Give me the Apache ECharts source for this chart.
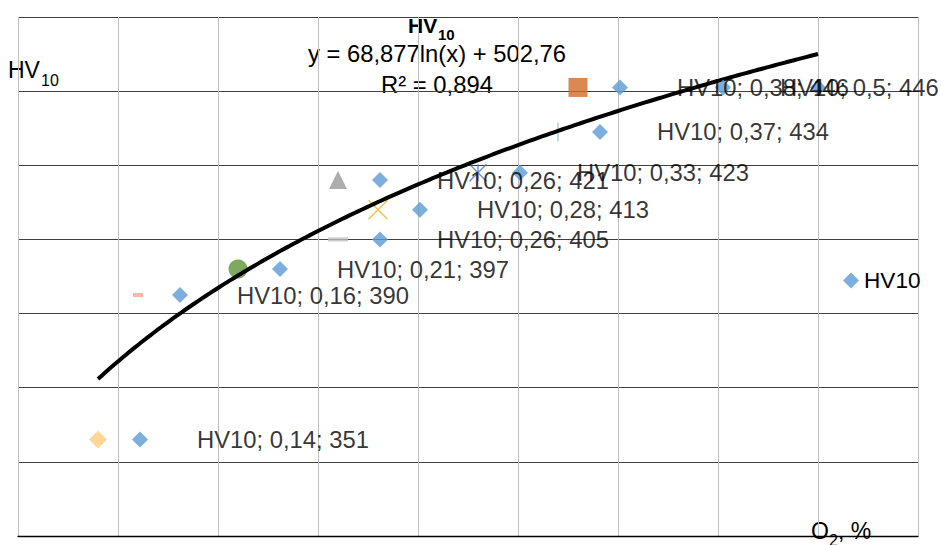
<!DOCTYPE html>
<html><head><meta charset="utf-8">
<script src="https://cdn.jsdelivr.net/npm/echarts@6/dist/echarts.min.js"></script>
<style>html,body{margin:0;padding:0;background:#fff}#c{width:941px;height:545px}</style>
</head><body><div id="c"></div>
<script>
// ---- data ----
const o2 = [0.14, 0.16, 0.21, 0.26, 0.26, 0.28, 0.33, 0.37, 0.38, 0.5];   // O2, %
const hv10 = [351, 390, 397, 405, 421, 413, 423, 434, 446, 446];          // HV10
// x position (axis units) at which the labelled "HV10" diamonds appear
const hvSeriesX = [0.161, 0.181, 0.231, 0.281, 0.281, 0.301, 0.351, 0.391, 0.401, 0.4525];
const trendCoef = [68.877, 502.76];   // y = a ln(x) + b
const trendRange = [0.14, 0.5];
const rSquared = '0,894';
const xScale = [0.1, 0.55, 0.05];
const yScale = [325, 465, 20];

// ---- styles for the individually marked points (one series each) ----
const markerStyles = [
  {symbol: 'diamond', size: 18, color: '#FFCC80'},
  {symbol: 'rect', size: [10, 4], color: '#F4A88A'},
  {symbol: 'circle', size: 19, color: '#5E9438'},
  {symbol: 'rect', size: [20, 4], color: '#BDBDBD'},
  {symbol: 'triangle', size: 18, color: '#999999'},
  {symbol: 'path://M0,0L10,10M10,0L0,10', size: 19, stroke: '#F0B020'},
  {symbol: 'path://M0,0L10,10M10,0L0,10M5,0L5,10', size: 17, stroke: '#4A74C4'},
  {symbol: 'rect', size: [1.6, 19], color: '#9DC3E6'},
  {symbol: 'rect', size: 19, color: '#D36A28'},
  {symbol: 'diamond', size: 16, color: '#5B9BD5'}
];

const fmt = v => String(v).replace('.', ',');
const FONT = '"Liberation Sans", Arial, sans-serif';

const series = [];
o2.forEach((x, i) => {
  const m = markerStyles[i];
  series.push({
    type: 'scatter', name: 'p' + i, z: 2,
    symbol: m.symbol, symbolSize: m.size,
    itemStyle: m.stroke ? {color: 'none', borderColor: m.stroke, borderWidth: 1.4}
                        : {color: m.color},
    data: [[x, hv10[i]]]
  });
});

const trend = [];
for (let k = 0; k <= 180; k++) {
  const x = trendRange[0] + (trendRange[1] - trendRange[0]) * k / 180;
  trend.push([x, trendCoef[0] * Math.log(x) + trendCoef[1]]);
}
series.push({
  type: 'line', name: 'trend', z: 3, data: trend, showSymbol: false,
  lineStyle: {color: '#000', width: 4}, silent: true
});

series.push({
  type: 'scatter', name: 'HV10', z: 4,
  symbol: 'diamond', symbolSize: 16,
  itemStyle: {color: '#5B9BD5'},
  data: hvSeriesX.map((x, i) => [x, hv10[i]]),
  label: {
    show: true, position: 'right', distance: 49,
    fontFamily: FONT, fontSize: 23.8, color: '#000',
    formatter: p => 'HV10; ' + fmt(o2[p.dataIndex]) + '; ' + hv10[p.dataIndex]
  }
});

const chart = echarts.init(document.getElementById('c'), null, {renderer: 'svg'});
chart.setOption({
  animation: false,
  grid: {left: 18, top: 17, right: 23, bottom: 9, containLabel: false},
  xAxis: {
    type: 'value', min: xScale[0], max: xScale[1], interval: xScale[2],
    axisLabel: {show: false}, axisTick: {show: false},
    axisLine: {show: true, onZero: false, lineStyle: {color: '#000', width: 1.3}},
    splitLine: {show: true, lineStyle: {color: '#BFBFBF', width: 1}}
  },
  yAxis: {
    type: 'value', min: yScale[0], max: yScale[1], interval: yScale[2],
    axisLabel: {show: false}, axisTick: {show: false}, axisLine: {show: false},
    splitLine: {show: true, lineStyle: {color: '#404040', width: 1}}
  },
  legend: {
    data: [{name: 'HV10', icon: 'diamond'}],
    left: 838, top: 264, itemWidth: 16, itemHeight: 16, itemGap: 5,
    textStyle: {fontFamily: FONT, fontSize: 22.6, color: '#000'}
  },
  graphic: [
    {type: 'text', left: 408, top: 15, style: {text: 'HV', font: 'bold 21px ' + FONT, fill: '#000'}},
    {type: 'text', left: 438, top: 27, style: {text: '10', font: 'bold 15px ' + FONT, fill: '#000'}},
    {type: 'text', x: 437, y: 53, style: {text: 'y = ' + fmt(trendCoef[0]) + 'ln(x) + ' + fmt(trendCoef[1]), font: '23.8px ' + FONT, fill: '#000', align: 'center', verticalAlign: 'middle'}},
    {type: 'text', x: 437, y: 84, style: {text: 'R\u00B2 = ' + rSquared, font: '23.8px ' + FONT, fill: '#000', align: 'center', verticalAlign: 'middle'}},
    {type: 'text', left: 8, top: 58, style: {text: 'HV', font: '23px ' + FONT, fill: '#000'}},
    {type: 'text', left: 41, top: 72, style: {text: '10', font: '16px ' + FONT, fill: '#000'}},
    {type: 'text', left: 811, top: 519, style: {text: 'O', font: '23px ' + FONT, fill: '#000'}},
    {type: 'text', left: 829, top: 532, style: {text: '2', font: '16px ' + FONT, fill: '#000'}},
    {type: 'text', left: 838, top: 519, style: {text: ', %', font: '23px ' + FONT, fill: '#000'}}
  ],
  series: series
});
</script>
</body></html>
